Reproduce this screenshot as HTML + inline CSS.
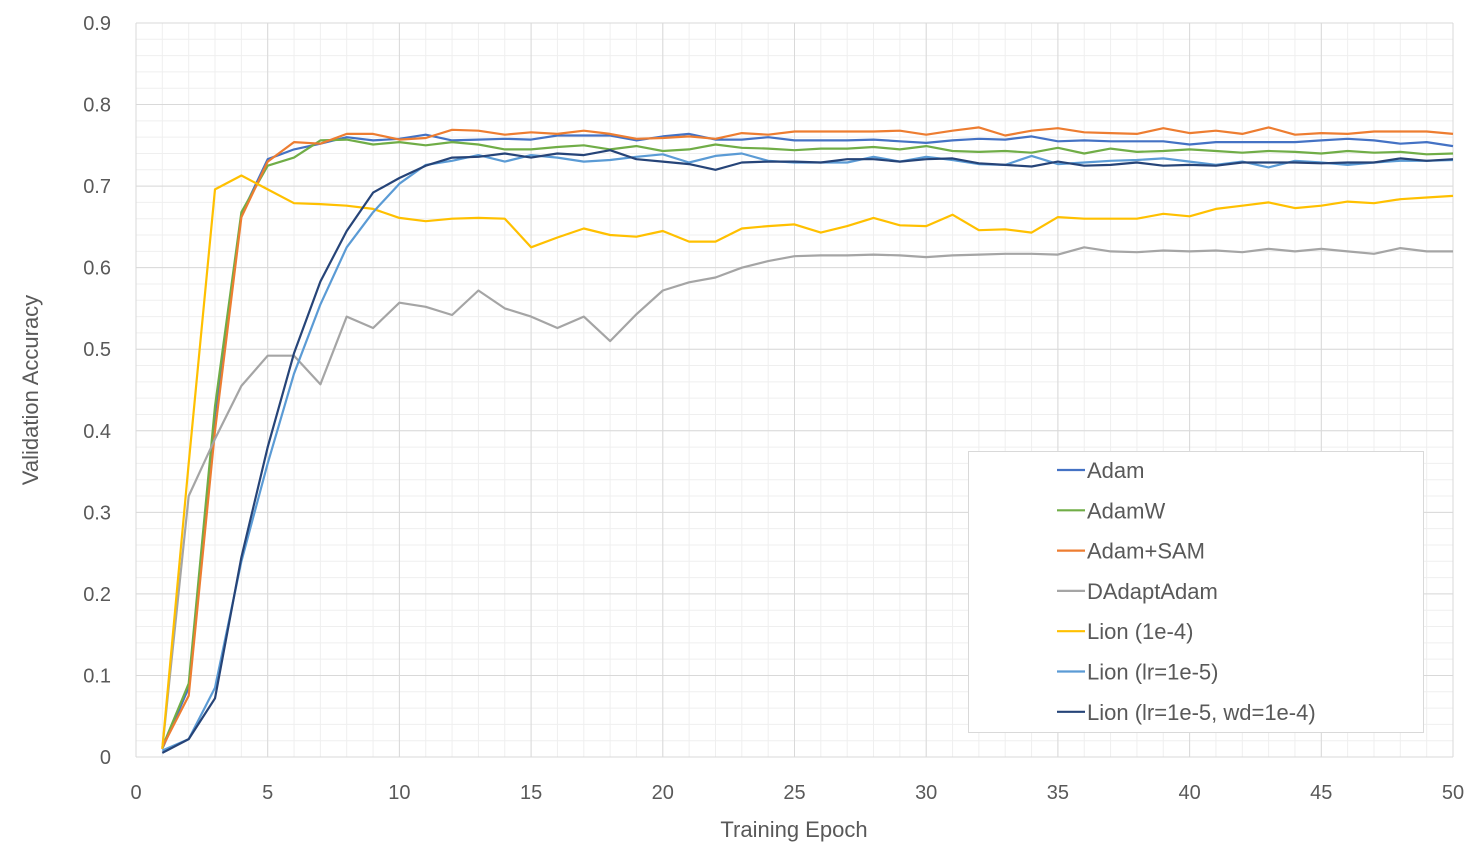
<!DOCTYPE html>
<html><head><meta charset="utf-8"><style>
body{margin:0;background:#fff;font-family:"Liberation Sans",sans-serif;}
svg{display:block}
</style></head><body>
<svg id="chart" width="1482" height="865">
<g id="grid"></g>
<g id="series"></g>
<g id="axes"></g>
<text x="794" y="837" text-anchor="middle" font-size="22" fill="#595959">Training Epoch</text>
<text transform="translate(38,390) rotate(-90)" text-anchor="middle" font-size="22" fill="#595959">Validation Accuracy</text>
<g id="legend"></g>
</svg>
<script>
const seriesNames=["Adam","AdamW","Adam+SAM","DAdaptAdam","Lion (1e-4)","Lion (lr=1e-5)","Lion (lr=1e-5, wd=1e-4)"];
const seriesColors=["#4472C4","#70AD47","#ED7D31","#A5A5A5","#FFC000","#5B9BD5","#264478"];
const adam=[0.01,0.085,0.42,0.665,0.733,0.745,0.752,0.76,0.756,0.758,0.763,0.756,0.757,0.758,0.757,0.762,0.762,0.762,0.756,0.761,0.764,0.757,0.757,0.76,0.756,0.756,0.756,0.757,0.755,0.753,0.756,0.758,0.757,0.761,0.755,0.756,0.755,0.755,0.755,0.751,0.754,0.754,0.754,0.754,0.756,0.758,0.756,0.752,0.754,0.749];
const adamw=[0.012,0.09,0.43,0.668,0.725,0.735,0.756,0.757,0.751,0.754,0.75,0.754,0.751,0.745,0.745,0.748,0.75,0.745,0.749,0.743,0.745,0.751,0.747,0.746,0.744,0.746,0.746,0.748,0.745,0.749,0.743,0.742,0.743,0.741,0.747,0.74,0.746,0.742,0.743,0.745,0.743,0.741,0.743,0.742,0.74,0.743,0.741,0.742,0.739,0.74];
const adamSam=[0.012,0.075,0.4,0.662,0.73,0.754,0.752,0.764,0.764,0.757,0.759,0.769,0.768,0.763,0.766,0.764,0.768,0.764,0.758,0.759,0.761,0.758,0.765,0.763,0.767,0.767,0.767,0.767,0.768,0.763,0.768,0.772,0.762,0.768,0.771,0.766,0.765,0.764,0.771,0.765,0.768,0.764,0.772,0.763,0.765,0.764,0.767,0.767,0.767,0.764];
const dadapt=[0.01,0.32,0.39,0.455,0.492,0.492,0.457,0.54,0.526,0.557,0.552,0.542,0.572,0.55,0.54,0.526,0.54,0.51,0.543,0.572,0.582,0.588,0.6,0.608,0.614,0.615,0.615,0.616,0.615,0.613,0.615,0.616,0.617,0.617,0.616,0.625,0.62,0.619,0.621,0.62,0.621,0.619,0.623,0.62,0.623,0.62,0.617,0.624,0.62,0.62];
const lion4=[0.01,0.36,0.696,0.713,0.696,0.679,0.678,0.676,0.672,0.661,0.657,0.66,0.661,0.66,0.625,0.637,0.648,0.64,0.638,0.645,0.632,0.632,0.648,0.651,0.653,0.643,0.651,0.661,0.652,0.651,0.665,0.646,0.647,0.643,0.662,0.66,0.66,0.66,0.666,0.663,0.672,0.676,0.68,0.673,0.676,0.681,0.679,0.684,0.686,0.688];
const lion5=[0.008,0.022,0.085,0.24,0.36,0.47,0.555,0.625,0.668,0.703,0.726,0.731,0.738,0.73,0.738,0.735,0.73,0.732,0.736,0.739,0.729,0.737,0.74,0.731,0.729,0.729,0.729,0.736,0.73,0.736,0.732,0.727,0.726,0.737,0.727,0.729,0.731,0.732,0.734,0.73,0.726,0.73,0.723,0.731,0.729,0.726,0.729,0.731,0.731,0.732];
const lion5wd=[0.005,0.022,0.072,0.245,0.38,0.495,0.583,0.645,0.692,0.71,0.725,0.735,0.736,0.74,0.735,0.74,0.738,0.744,0.733,0.73,0.727,0.72,0.729,0.73,0.73,0.729,0.733,0.733,0.73,0.733,0.734,0.728,0.726,0.724,0.73,0.725,0.726,0.729,0.725,0.726,0.725,0.729,0.729,0.729,0.728,0.729,0.729,0.734,0.731,0.733];
const xTicks=[0,5,10,15,20,25,30,35,40,45,50];
const yTicks=[0,0.1,0.2,0.3,0.4,0.5,0.6,0.7,0.8,0.9];
const allSeries=[adam,adamw,adamSam,dadapt,lion4,lion5,lion5wd];

const NS="http://www.w3.org/2000/svg";
const X0=136,X1=1453,Y0=757,Y1=23;
const xs=v=>X0+(v/50)*(X1-X0);
const ys=v=>Y0-(v/0.9)*(Y0-Y1);
function mk(tag,attrs,parent){const e=document.createElementNS(NS,tag);for(const k in attrs)e.setAttribute(k,attrs[k]);parent.appendChild(e);return e;}
const grid=document.getElementById('grid'),axes=document.getElementById('axes'),ser=document.getElementById('series'),leg=document.getElementById('legend');
// minor grid
for(let i=0;i<=50;i++){const l=mk('line',{x1:xs(i),x2:xs(i),y1:Y1,y2:Y0,stroke:'#efefef','stroke-width':1},grid);

}
for(let i=0;i<=45;i++){const v=i*0.02;const l=mk('line',{x1:X0,x2:X1,y1:ys(v),y2:ys(v),stroke:'#efefef','stroke-width':1},grid);

}
xTicks.forEach(t=>{const l=mk('line',{x1:xs(t),x2:xs(t),y1:Y1,y2:Y0,stroke:'#d9d9d9','stroke-width':1},grid);


const tx=mk('text',{x:xs(t),y:799,'text-anchor':'middle','font-size':20,fill:'#595959'},axes);tx.textContent=t;

});
yTicks.forEach(t=>{const l=mk('line',{x1:X0,x2:X1,y1:ys(t),y2:ys(t),stroke:'#d9d9d9','stroke-width':1},grid);


const tx=mk('text',{x:111,y:ys(t)+7,'text-anchor':'end','font-size':20,fill:'#595959'},axes);tx.textContent=String(t);

});
allSeries.forEach((d,si)=>{const pts=d.map((v,i)=>xs(i+1).toFixed(1)+','+ys(v).toFixed(1)).join(' ');
const p=mk('polyline',{points:pts,fill:'none',stroke:seriesColors[si],'stroke-width':2.2,'stroke-linejoin':'round'},ser);

});
const box=mk('rect',{x:968.5,y:451.5,width:455,height:281,fill:'#fff',stroke:'#d9d9d9'},leg);


seriesNames.forEach((n,i)=>{const y=470+i*40.3;
const l=mk('line',{x1:1057,x2:1085,y1:y,y2:y,stroke:seriesColors[i],'stroke-width':2.2},leg);


const t=mk('text',{x:1087,y:y+8,'font-size':22,fill:'#595959'},leg);t.textContent=n;

});
</script>
</body></html>
